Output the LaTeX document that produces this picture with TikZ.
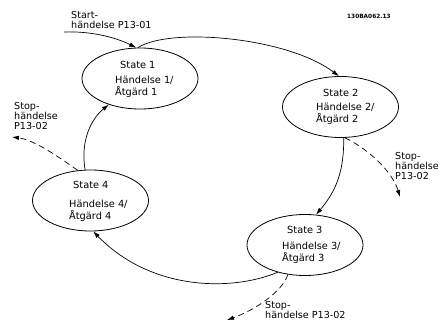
\documentclass[tikz,border=0pt]{standalone}
\usepackage{fontspec}
\setmainfont{DejaVu Sans}
\usetikzlibrary{arrows.meta,shapes.geometric}

\begin{document}
\begin{tikzpicture}[x=1pt,y=-1pt]
\tikzset{
  statenode/.style={ellipse,draw,line width=0.8pt,minimum width=116pt,minimum height=61pt,inner sep=0pt},
  textnode/.style={inner sep=0pt,font=\fontsize{9.8}{12}\selectfont,align=left},
  labelnode/.style={inner sep=0pt,font=\fontsize{9.6}{10}\selectfont,align=left,anchor=north west},
  transition/.style={-{Latex[length=7pt,width=4.5pt]},line width=0.7pt},
  stopevent/.style={transition,dash pattern=on 6pt off 4pt}
}
\useasboundingbox (0,0) rectangle (440,321);
\fill[white] (0,0) rectangle (440,321);
\clip (0,0) rectangle (440,321);
% states
\node[statenode] (s_1) at (140,78.5) {};
\node[statenode] (s_2) at (340.5,107) {};
\node[statenode] (s_3) at (305,245) {};
\node[statenode] (s_4) at (90.5,200.5) {};
\node[textnode,anchor=base west] (s_1_name) at (120,68.5) {State 1};
\node[textnode,anchor=north west] (s_1_act) at (115,76) {Händelse 1/\\Åtgärd 1};
\node[textnode,anchor=base west] (s_2_name) at (323,96.5) {State 2};
\node[textnode,anchor=north west] (s_2_act) at (316,103) {Händelse 2/\\Åtgärd 2};
\node[textnode,anchor=base west] (s_3_name) at (287,233.5) {State 3};
\node[textnode,anchor=north west] (s_3_act) at (282,241.5) {Händelse 3/\\Åtgärd 3};
\node[textnode,anchor=base west] (s_4_name) at (73,188.5) {State 4};
\node[textnode,anchor=north west] (s_4_act) at (69,199.5) {Händelse 4/\\Åtgärd 4};
% labels
\node[labelnode] (l_start) at (71,11.4) {Start-\\händelse P13-01};
\node[labelnode] (l_stop_4) at (14,102.4) {Stop-\\händelse\\P13-02};
\node[labelnode] (l_stop_2) at (395,152.4) {Stop-\\händelse\\P13-02};
\node[labelnode] (l_stop_3) at (265,301.5) {Stop-\\händelse P13-02};
\node[inner sep=0pt,anchor=west,font=\fontsize{5.8}{7}\selectfont\bfseries] (l_id) at (347,16) {130BA062.13};
% free ends
\coordinate (c_start) at (64,32);
\coordinate (c_stop_4) at (12,137);
\coordinate (c_stop_2) at (400,197);
\coordinate (c_stop_3) at (227,320);
% transitions
\draw[transition] (c_start) .. controls (90,31) and (115,37) .. (s_1.97);
\draw[transition] (s_1.94) .. controls (170,27) and (287,37) .. (s_2.93);
\draw[transition] (s_2.-84) .. controls (344,170) and (337,190) .. (s_3.70);
\draw[transition] (s_3.-135) .. controls (230,292) and (150,290) .. (s_4.-85);
\draw[transition] (s_4.100) .. controls (80,140) and (92,118) .. (s_1.-140);
% stop events
\draw[stopevent] (s_4.113) .. controls (60,158) and (35,140) .. (c_stop_4);
\draw[stopevent] (s_2.-82) .. controls (365,147) and (392,170) .. (c_stop_2);
\draw[stopevent] (s_3.-120) .. controls (282,292) and (255,310) .. (c_stop_3);
\end{tikzpicture}
\end{document}
